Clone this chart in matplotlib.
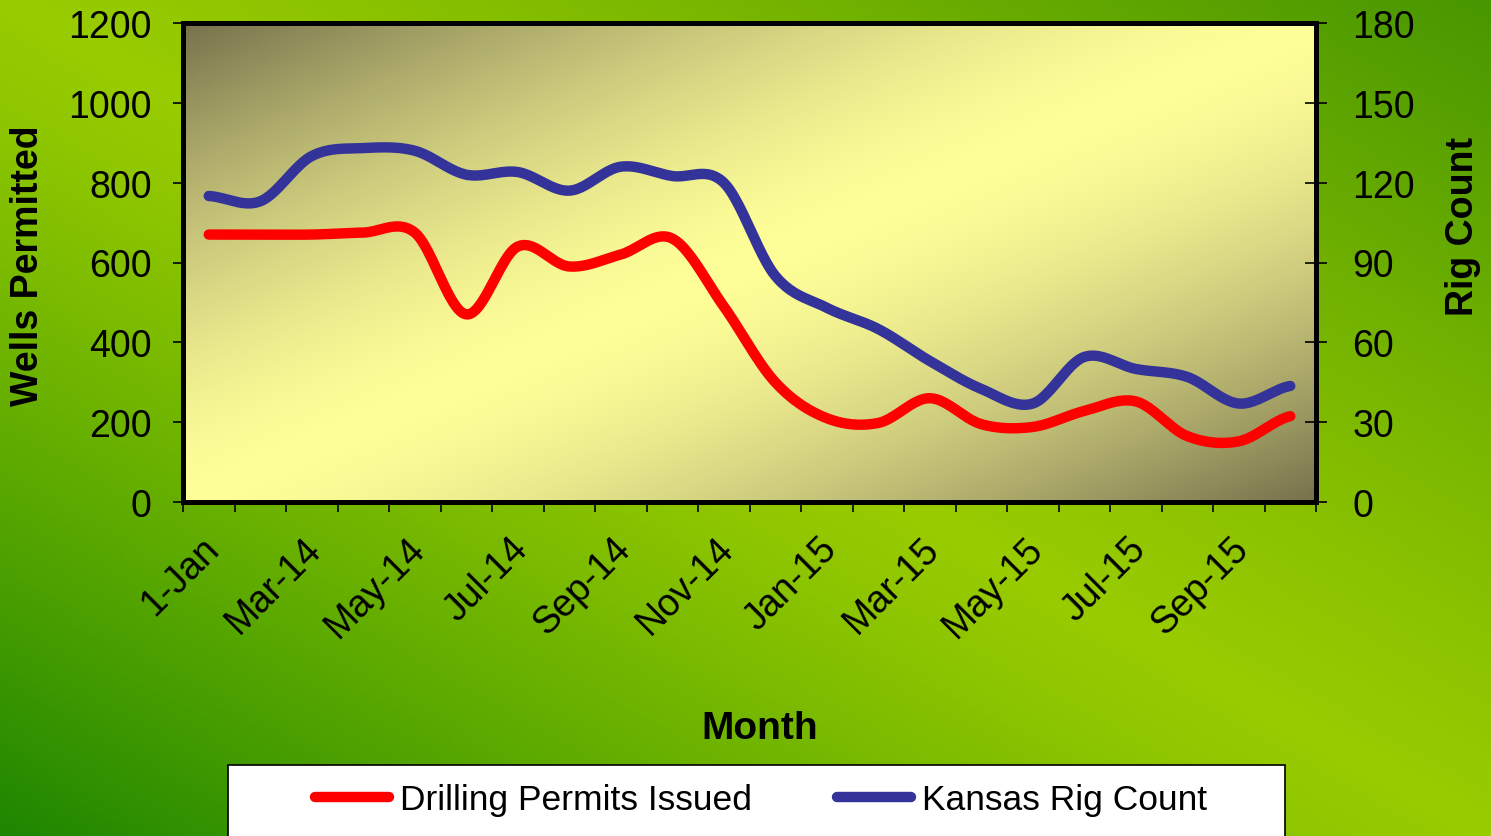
import numpy as np
import matplotlib
matplotlib.use("Agg")
import matplotlib.pyplot as plt
from matplotlib.patches import Rectangle
from matplotlib.lines import Line2D

plt.rcParams['font.family'] = ['Liberation Sans', 'DejaVu Sans']

# Дані
months = ["1-Jan", "Feb-14", "Mar-14", "Apr-14", "May-14", "Jun-14", "Jul-14", "Aug-14",
          "Sep-14", "Oct-14", "Nov-14", "Dec-14", "Jan-15", "Feb-15", "Mar-15", "Apr-15",
          "May-15", "Jun-15", "Jul-15", "Aug-15", "Sep-15", "Oct-15"]
permits = [670, 670, 670, 675, 675, 470, 640, 590, 620, 660, 490, 300,
           210, 198, 260, 195, 188, 228, 252, 165, 152, 215]
rigs = [115, 113, 130, 133, 132, 123, 124, 117, 126, 122.5, 120, 85,
        73, 65, 53, 42.5, 37, 54.5, 50, 47, 37, 43.6]


def smooth(y, n=24):
    # згладжування як у Excel (Catmull-Rom)
    y = np.asarray(y, float)
    p = np.concatenate([[y[0]], y, [y[-1]]])
    xs, ys = [], []
    t = np.linspace(0, 1, n, endpoint=False)
    for i in range(len(y) - 1):
        p0, p1, p2, p3 = p[i], p[i + 1], p[i + 2], p[i + 3]
        m1 = (p2 - p0) / 2
        m2 = (p3 - p1) / 2
        h00 = 2 * t**3 - 3 * t**2 + 1
        h10 = t**3 - 2 * t**2 + t
        h01 = -2 * t**3 + 3 * t**2
        h11 = t**3 - t**2
        xs.append(i + t)
        ys.append(h00 * p1 + h10 * m1 + h01 * p2 + h11 * m2)
    xs.append([len(y) - 1])
    ys.append([y[-1]])
    return np.concatenate(xs), np.concatenate(ys)


W, H = 1491, 837
fig = plt.figure(figsize=(W / 100, H / 100), dpi=100)

# зелений фон
bg = fig.add_axes([0, 0, 1, 1], zorder=-10)
u, v = np.meshgrid(np.linspace(0, 1, 300), np.linspace(0, 1, 200))
bright = np.array([0x99, 0xcc, 0x00]) / 255
dark_tr = np.array([0x48, 0x96, 0x00]) / 255
dark_bl = np.array([0x1e, 0x86, 0x00]) / 255
t = np.abs(u - v)[..., None]
dark = np.where((u > v)[..., None], dark_tr, dark_bl)
img = bright + (dark - bright) * t**1.2
bg.imshow(img, aspect='auto', extent=(0, 1, 1, 0))
bg.set_xlim(0, 1)
bg.set_ylim(1, 0)
bg.axis('off')

left, right, top, bottom = 183 / W, 1316 / W, 24 / H, 503 / H
ax = fig.add_axes([left, 1 - bottom, right - left, bottom - top])
ax.patch.set_visible(False)

# жовтий градієнт області графіка
pu, pv = np.meshgrid(np.linspace(0, 1, 300), np.linspace(0, 1, 200))
pt = np.abs(pu + pv - 1)[..., None]
light = np.array([0xff, 0xff, 0x99]) / 255
olive = np.array([0x76, 0x71, 0x4c]) / 255
pimg = light + (olive - light) * pt**1.5
ax.imshow(pimg, aspect='auto', extent=(-0.5, 21.5, 0, 1200), zorder=0)

x = np.arange(len(months))
sx, sy = smooth(permits)
ax.plot(sx, sy, color='#ff0000', lw=7.5, solid_capstyle='round', zorder=3)
ax.set_xlim(-0.5, 21.5)
ax.set_ylim(0, 1200)
ax.set_yticks(range(0, 1201, 200))

ax2 = ax.twinx()
bx, by = smooth(rigs)
ax2.plot(bx, by, color='#333399', lw=7.5, solid_capstyle='round', zorder=3)
ax2.set_ylim(0, 180)
ax2.set_yticks(range(0, 181, 30))
ax2.set_xlim(-0.5, 21.5)

# підписи місяців (кожен другий), повернуті на 45°
ax.set_xticks([])
for i in x[::2]:
    ax.annotate(months[i], xy=(i, 0), xycoords=('data', 'axes fraction'),
                xytext=(-6, -20), textcoords='offset points', rotation=45,
                ha='right', va='top', rotation_mode='anchor', fontsize=27,
                annotation_clip=False)
ax.set_xticks(np.arange(-0.5, 22, 1), minor=True)
ax.tick_params(axis='x', which='minor', length=7.5, width=1.2, direction='out')
ax.tick_params(axis='y', length=7.5, width=1.2, direction='out', pad=15, labelsize=27)
ax2.tick_params(axis='y', length=16, width=1.2, direction='inout', pad=18, labelsize=27)

for a in (ax, ax2):
    for s in a.spines.values():
        s.set_linewidth(3.6)
        s.set_color('black')

fig.text(28 / W, 1 - 266 / H, "Wells Permitted", rotation=90, fontsize=27,
         fontweight='bold', ha='center', va='center')
fig.text(1463 / W, 1 - 226 / H, "Rig Count", rotation=90, fontsize=27,
         fontweight='bold', ha='center', va='center')
fig.text(760 / W, 1 - 729 / H, "Month", fontsize=28, fontweight='bold',
         ha='center', va='center')

# легенда
fig.patches.append(Rectangle((228 / W, -0.02), (1285 - 228) / W, (837 - 766) / H + 0.02,
                             transform=fig.transFigure, facecolor='white',
                             edgecolor='black', lw=1.2, zorder=1))
handles = [Line2D([], [], color='#ff0000', lw=7.5, solid_capstyle='round'),
           Line2D([], [], color='#333399', lw=7.5, solid_capstyle='round')]
fig.legend(handles, ["Drilling Permits Issued", "Kansas Rig Count"], loc='center',
           bbox_to_anchor=(761 / W, 1 - 801 / H), ncol=2, frameon=False, fontsize=25.5,
           handlelength=2.1, handletextpad=0.3, columnspacing=2.4)

fig.savefig("out.png", dpi=100)
